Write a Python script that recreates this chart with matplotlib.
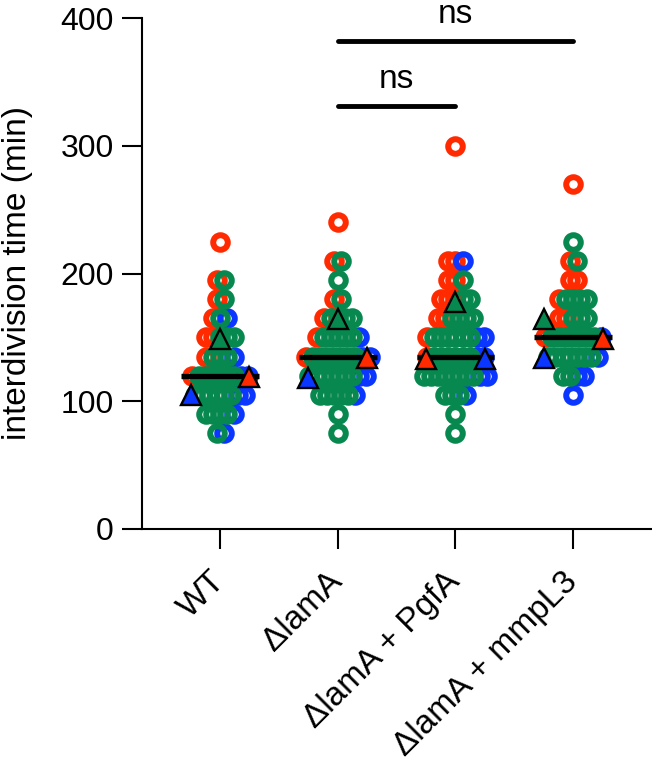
import matplotlib
matplotlib.use('Agg')
import matplotlib.pyplot as plt
import numpy as np

plt.rcParams['font.family'] = ['Liberation Sans', 'DejaVu Sans']

# groups on the x axis
groups = ['WT', 'ΔlamA', 'ΔlamA + PgfA', 'ΔlamA + mmpL3']

# single-cell interdivision times (min), one list per replicate
wt_red = [225, 195, 180, 165, 150, 150, 135, 120]
wt_green = [195, 180, 165, 150, 150, 150, 135, 135, 135,
            120, 120, 120, 120, 120, 120, 105, 105, 105, 105, 105, 105,
            90, 90, 90, 90, 75]
wt_blue = [165, 135, 120, 120, 105, 105, 90, 75]

lama_red = [240, 210, 180, 165, 150, 135]
lama_green = [210, 195, 180, 165, 165, 165, 165, 150, 150, 150, 150, 150,
              135, 135, 135, 135, 135, 135, 135,
              120, 120, 120, 120, 120, 120, 120,
              105, 105, 105, 105, 105, 90, 75]
lama_blue = [150, 135, 135, 120, 120, 105]

pgfa_red = [300, 210, 210, 195, 195, 180, 180, 180, 165, 165, 150, 135]
pgfa_green = [195, 180, 180, 165, 165, 165, 165,
              150, 150, 150, 150, 150, 150, 135, 135, 135, 135, 135, 135,
              120, 120, 120, 120, 120, 120, 120, 120, 105, 105, 105, 90, 75]
pgfa_blue = [210, 150, 150, 135, 135, 120, 120, 105]

mmpl3_red = [270, 210, 195, 195, 180, 165, 165, 150]
mmpl3_green = [225, 210, 180, 180, 180, 180, 165, 165, 165,
               150, 150, 150, 150, 150, 150, 150,
               135, 135, 135, 135, 135, 135, 135, 120, 120]
mmpl3_blue = [150, 135, 120, 120, 105]

red_vals = [wt_red, lama_red, pgfa_red, mmpl3_red]
green_vals = [wt_green, lama_green, pgfa_green, mmpl3_green]
blue_vals = [wt_blue, lama_blue, pgfa_blue, mmpl3_blue]

# replicate means (triangles) and overall medians (black bars)
red_means = [119, 134, 133, 149]
green_means = [149, 164, 178, 164]
blue_means = [105, 118, 133, 134]
medians = [120, 135, 135, 150]

# significance brackets: (from group, to group, height, label)
sig_pairs = [(1, 2, 331, 'ns'), (1, 3, 382, 'ns')]

# colours / styling
c_red = '#FF2A00'
c_green = '#06884E'
c_blue = '#0A36FF'
# which side of the column each replicate mean sits on (-1 left, 0 centre, 1 right)
red_side = [1, 1, -1, 1]
green_side = [0, 0, 0, -1]
blue_side = [-1, -1, 1, -1]
mean_dx = 0.25
dot_dx = 0.06

fig = plt.figure(figsize=(6.52, 7.62), dpi=100)
ax = fig.add_axes([142 / 652, 1 - 529 / 762, 510 / 652, 511 / 762])

for gi in range(len(groups)):
    vals = np.array(red_vals[gi] + green_vals[gi] + blue_vals[gi], dtype=float)
    reps = np.array(['r'] * len(red_vals[gi]) + ['g'] * len(green_vals[gi])
                    + ['b'] * len(blue_vals[gi]))
    xs = np.zeros(len(vals))
    for v in np.unique(vals):
        idx = np.where(vals == v)[0]
        n = len(idx)
        xs[idx] = gi + (np.arange(n) - (n - 1) / 2) * dot_dx
    for rep, col, z in [('r', c_red, 2), ('b', c_blue, 3), ('g', c_green, 4)]:
        m = reps == rep
        ax.plot(xs[m], vals[m], 'o', ms=10.5, mfc='none', mec=col, mew=4.3,
                ls='none', zorder=z, clip_on=False)
    ax.plot([gi - 0.33, gi + 0.33], [medians[gi], medians[gi]], color='black',
            lw=3.8, solid_capstyle='butt', zorder=5)

for means, side, col in [(red_means, red_side, c_red),
                         (green_means, green_side, c_green),
                         (blue_means, blue_side, c_blue)]:
    xpos = np.arange(len(groups)) + np.array(side) * mean_dx
    ax.plot(xpos, means, '^', ms=15, mfc=col, mec='black', mew=1.7,
            ls='none', zorder=6, clip_on=False)

for a, b, h, lab in sig_pairs:
    ax.plot([a, b], [h, h], color='black', lw=3.5, solid_capstyle='round',
            zorder=5, clip_on=False)
    ax.text((a + b) / 2, h + 14, lab, ha='center', va='baseline', fontsize=24)

ax.set_xlim(-0.663, 3.67)
ax.set_ylim(0, 400)
ax.set_yticks([0, 100, 200, 300, 400])
ax.set_xticks(range(len(groups)))
ax.set_xticklabels(groups, rotation=45, ha='right', va='center',
                   rotation_mode='anchor')
ax.tick_params(axis='both', length=14.4, width=1.5, direction='out')
ax.tick_params(axis='y', pad=6, labelsize=23)
ax.tick_params(axis='x', pad=20, labelsize=24)
ax.spines['top'].set_visible(False)
ax.spines['right'].set_visible(False)
ax.spines['left'].set_linewidth(1.5)
ax.spines['bottom'].set_linewidth(1.5)
ax.set_ylabel('interdivision time (min)', fontsize=24)
ax.yaxis.set_label_coords(-0.214, 0.5)

fig.savefig('out.png', dpi=100)
